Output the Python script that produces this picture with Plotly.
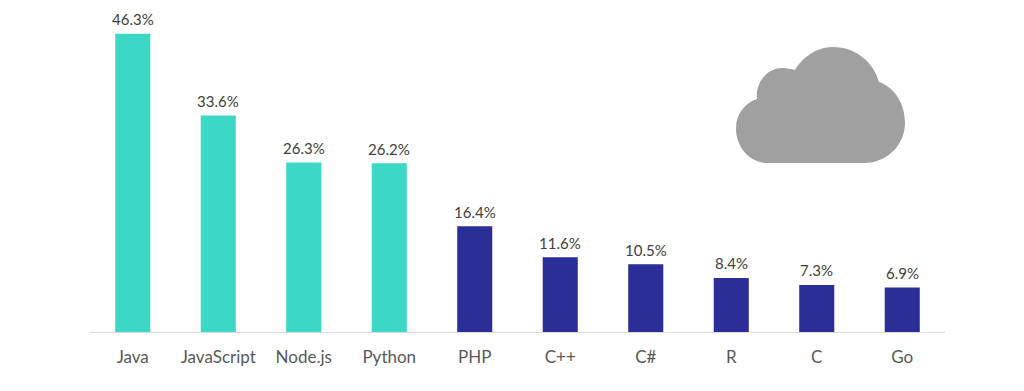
import plotly.graph_objects as go

languages = ["Java", "JavaScript", "Node.js", "Python", "PHP", "C++", "C#", "R", "C", "Go"]
shares = [46.3, 33.6, 26.3, 26.2, 16.4, 11.6, 10.5, 8.4, 7.3, 6.9]
share_labels = ["46.3%", "33.6%", "26.3%", "26.2%", "16.4%", "11.6%", "10.5%", "8.4%", "7.3%", "6.9%"]
TEAL = "#3bd8c6"
NAVY = "#2b2e96"
bar_colors = [TEAL] * 4 + [NAVY] * 6
FONT = "Lato, Noto Sans, sans-serif"

# The page adds an 8 px margin, so the figure is 1008x375 and offsets are reduced by 8
W, H = 1008, 375
L, R, T, B = 82, 71, 0, 51
plot_w = W - L - R
plot_h = H - T - B

# Cloud outline in pixels, relative to its lower-left anchor (y up)
cloud_path = (
    "M 32 0 C 14 0 0 15 0 35 C 0 49 9 60 21 64 "
    "C 19 80 31 95 46 95 C 51 95 55 94 59 93 "
    "C 66 105 80 116 97 116 C 120 116 138 100 143 81 "
    "C 158 76 169 60 169 40 C 169 18 151 0 128 0 Z"
)

fig = go.Figure(
    go.Bar(
        x=languages,
        y=shares,
        marker=dict(color=bar_colors, line=dict(width=0)),
        width=0.41,
    )
)
fig.update_layout(
    width=W,
    height=H,
    margin=dict(l=L, r=R, t=T, b=B, pad=0),
    paper_bgcolor="white",
    plot_bgcolor="white",
    showlegend=False,
    xaxis=dict(
        showline=True,
        linecolor="#d9d9d9",
        linewidth=1,
        showgrid=False,
        ticks="",
        tickfont=dict(family=FONT, size=17, color="#595959"),
        ticklabelstandoff=10,
    ),
    yaxis=dict(visible=False, range=[0, 50.3]),
    annotations=[
        dict(
            x=lang,
            y=val,
            text=lab,
            showarrow=False,
            yanchor="bottom",
            yshift=3.5,
            font=dict(family=FONT, size=15, color="#404040"),
        )
        for lang, val, lab in zip(languages, shares, share_labels)
    ],
    shapes=[
        dict(
            type="path",
            xref="paper",
            yref="paper",
            xsizemode="pixel",
            ysizemode="pixel",
            xanchor=(736 - 8 - L) / plot_w,
            yanchor=(332 - 163) / plot_h,
            path=cloud_path,
            fillcolor="#a0a0a0",
            line=dict(width=0),
        )
    ],
)
fig.write_html("out.html")
